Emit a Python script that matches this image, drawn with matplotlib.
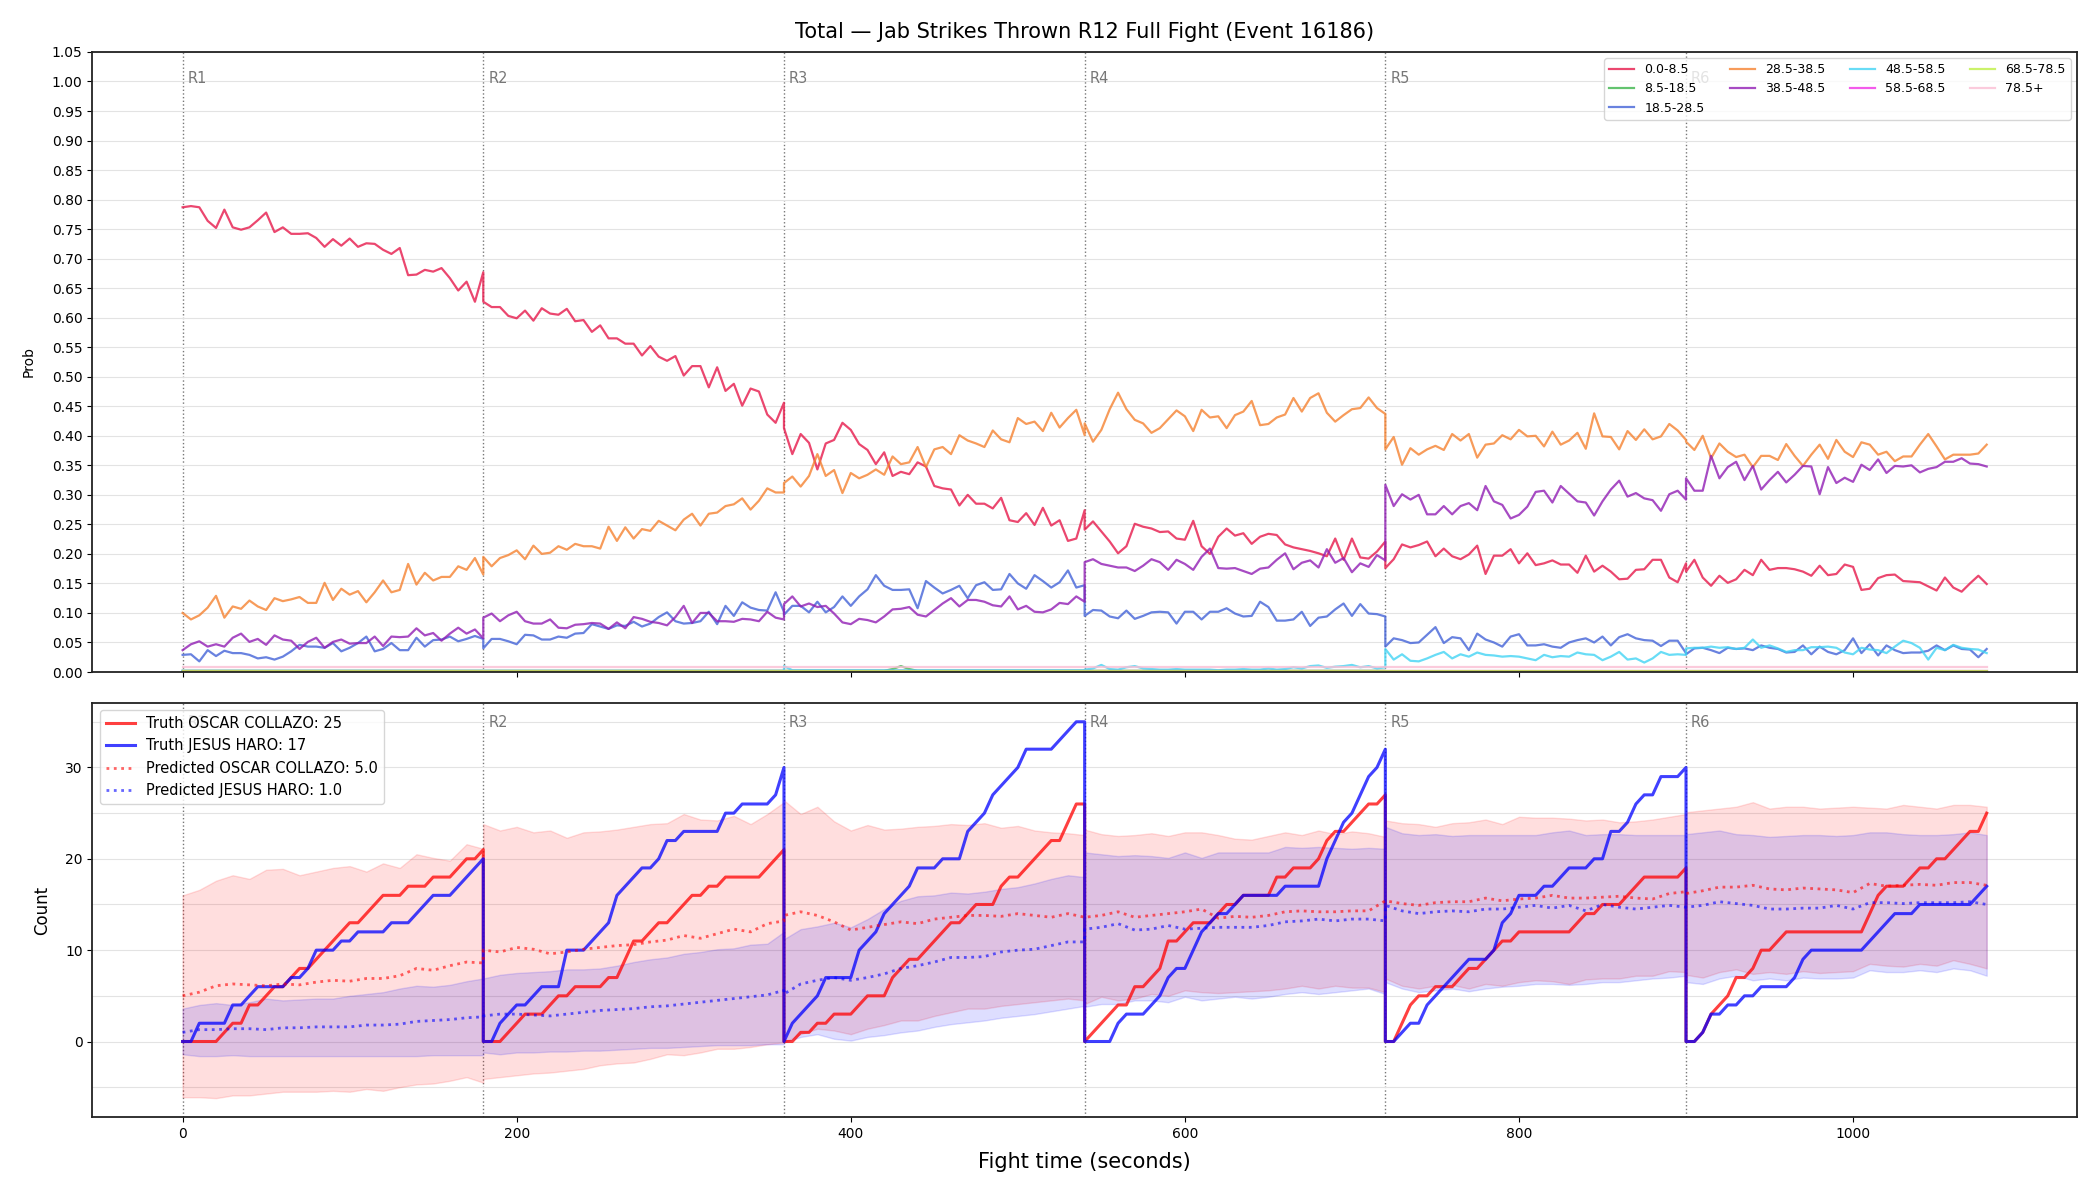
import numpy as np
import matplotlib
matplotlib.use("Agg")
import matplotlib.pyplot as plt
from matplotlib.ticker import MultipleLocator
import matplotlib.transforms as mtransforms

# ---------------- data ----------------
title = "Total \u2014 Jab Strikes Thrown R12 Full Fight (Event 16186)"
round_len = 180
n_rounds = 6
round_labels = ["R1", "R2", "R3", "R4", "R5", "R6"]
bucket_names = ["0.0-8.5", "8.5-18.5", "18.5-28.5", "28.5-38.5", "38.5-48.5",
                "48.5-58.5", "58.5-68.5", "68.5-78.5", "78.5+"]
bucket_colors = ["#e6194B", "#3cb44b", "#4363d8", "#f58231", "#911eb4",
                 "#42d4f4", "#f032e6", "#bfef45", "#fabed4"]

# probabilities, one list per round (every 5 s, 0..180)
p_0_8 = [
    [0.787,0.789,0.787,0.764,0.752,0.783,0.753,0.749,0.753,0.765,0.778,0.745,0.753,0.742,0.742,0.743,0.735,0.720,0.733,0.722,0.734,0.720,0.726,0.725,0.715,0.708,0.718,0.672,0.673,0.681,0.678,0.684,0.667,0.646,0.661,0.627,0.677],
    [0.627,0.618,0.618,0.603,0.599,0.612,0.595,0.616,0.607,0.605,0.615,0.594,0.596,0.576,0.587,0.565,0.565,0.556,0.556,0.536,0.552,0.534,0.527,0.535,0.502,0.518,0.518,0.482,0.516,0.476,0.488,0.451,0.480,0.475,0.436,0.422,0.456],
    [0.413,0.369,0.403,0.388,0.343,0.387,0.393,0.422,0.410,0.386,0.376,0.352,0.372,0.332,0.339,0.335,0.355,0.348,0.315,0.311,0.309,0.282,0.300,0.285,0.285,0.277,0.295,0.257,0.254,0.269,0.249,0.278,0.248,0.257,0.222,0.226,0.274],
    [0.241,0.255,0.238,0.221,0.201,0.213,0.251,0.246,0.243,0.237,0.238,0.226,0.224,0.256,0.213,0.200,0.229,0.243,0.231,0.235,0.217,0.229,0.234,0.232,0.216,0.211,0.208,0.205,0.201,0.196,0.226,0.190,0.226,0.194,0.192,0.204,0.221],
    [0.176,0.191,0.216,0.211,0.215,0.221,0.196,0.209,0.196,0.191,0.199,0.214,0.166,0.197,0.197,0.208,0.184,0.201,0.181,0.184,0.189,0.182,0.182,0.168,0.197,0.170,0.180,0.170,0.157,0.158,0.173,0.174,0.190,0.190,0.160,0.152,0.184],
    [0.170,0.190,0.160,0.146,0.163,0.151,0.157,0.173,0.164,0.190,0.173,0.176,0.176,0.174,0.170,0.163,0.180,0.164,0.166,0.182,0.178,0.139,0.141,0.159,0.164,0.165,0.154,0.153,0.152,0.145,0.138,0.160,0.143,0.136,0.150,0.163,0.149],
]
p_8_18 = [
    [0.002] * 37,
    [0.002] * 37,
    [0.002,0.002,0.002,0.002,0.002,0.002,0.002,0.002,0.002,0.002,0.002,0.002,0.002,0.005,0.010,0.005,0.002,0.002,0.002,0.002,0.002,0.002,0.002,0.002,0.002,0.002,0.002,0.002,0.002,0.002,0.002,0.002,0.002,0.002,0.002,0.002,0.002],
    [0.002] * 37,
    [0.001] * 37,
    [0.001] * 37,
]
p_18_28 = [
    [0.029,0.030,0.018,0.037,0.027,0.036,0.032,0.032,0.029,0.023,0.025,0.021,0.026,0.035,0.046,0.043,0.043,0.041,0.049,0.035,0.041,0.049,0.060,0.035,0.039,0.049,0.037,0.037,0.058,0.043,0.054,0.055,0.060,0.052,0.056,0.061,0.056],
    [0.040,0.056,0.056,0.052,0.047,0.063,0.062,0.055,0.055,0.060,0.058,0.065,0.066,0.081,0.077,0.073,0.079,0.078,0.085,0.077,0.082,0.093,0.101,0.086,0.082,0.083,0.086,0.102,0.081,0.112,0.095,0.118,0.109,0.105,0.104,0.135,0.102],
    [0.097,0.112,0.112,0.101,0.119,0.101,0.110,0.128,0.112,0.128,0.140,0.164,0.146,0.139,0.139,0.140,0.108,0.154,0.143,0.133,0.139,0.146,0.125,0.147,0.152,0.139,0.140,0.166,0.150,0.141,0.164,0.154,0.143,0.152,0.172,0.143,0.147],
    [0.095,0.105,0.104,0.094,0.091,0.104,0.090,0.095,0.101,0.102,0.101,0.082,0.102,0.102,0.089,0.102,0.102,0.108,0.099,0.094,0.095,0.119,0.110,0.087,0.087,0.089,0.102,0.078,0.092,0.094,0.106,0.116,0.095,0.115,0.099,0.098,0.094],
    [0.043,0.057,0.054,0.049,0.050,0.063,0.076,0.049,0.059,0.057,0.037,0.065,0.055,0.050,0.043,0.060,0.064,0.045,0.045,0.047,0.043,0.041,0.050,0.054,0.057,0.050,0.060,0.045,0.059,0.064,0.057,0.054,0.053,0.044,0.053,0.053,0.032],
    [0.030,0.040,0.041,0.037,0.032,0.041,0.039,0.040,0.037,0.045,0.041,0.039,0.033,0.034,0.045,0.030,0.043,0.034,0.030,0.037,0.057,0.032,0.047,0.028,0.045,0.037,0.032,0.033,0.033,0.036,0.045,0.037,0.045,0.039,0.038,0.025,0.039],
]
p_28_38 = [
    [0.100,0.089,0.096,0.109,0.129,0.092,0.111,0.107,0.121,0.111,0.105,0.125,0.120,0.123,0.127,0.117,0.117,0.151,0.122,0.141,0.131,0.137,0.118,0.135,0.155,0.135,0.139,0.183,0.148,0.168,0.155,0.161,0.161,0.179,0.173,0.193,0.165],
    [0.195,0.179,0.193,0.198,0.206,0.191,0.214,0.200,0.202,0.213,0.207,0.217,0.213,0.213,0.209,0.246,0.222,0.245,0.226,0.242,0.239,0.256,0.248,0.240,0.258,0.268,0.248,0.268,0.270,0.281,0.284,0.294,0.275,0.290,0.311,0.304,0.304],
    [0.320,0.331,0.314,0.332,0.369,0.332,0.342,0.303,0.337,0.328,0.334,0.343,0.334,0.365,0.352,0.355,0.381,0.347,0.377,0.381,0.369,0.401,0.392,0.387,0.381,0.409,0.394,0.389,0.430,0.420,0.424,0.408,0.439,0.414,0.430,0.444,0.401],
    [0.421,0.390,0.410,0.445,0.473,0.445,0.427,0.421,0.405,0.413,0.428,0.443,0.433,0.408,0.444,0.431,0.433,0.413,0.435,0.441,0.459,0.418,0.420,0.431,0.436,0.464,0.441,0.464,0.472,0.439,0.424,0.435,0.445,0.447,0.465,0.447,0.437],
    [0.377,0.398,0.351,0.379,0.368,0.377,0.383,0.376,0.403,0.392,0.403,0.363,0.385,0.387,0.401,0.394,0.410,0.399,0.400,0.382,0.407,0.385,0.392,0.405,0.378,0.438,0.399,0.398,0.377,0.408,0.393,0.411,0.394,0.399,0.420,0.409,0.393],
    [0.390,0.376,0.400,0.362,0.387,0.373,0.364,0.368,0.347,0.366,0.366,0.359,0.386,0.366,0.349,0.368,0.385,0.361,0.393,0.373,0.364,0.389,0.385,0.368,0.373,0.357,0.365,0.365,0.385,0.403,0.382,0.360,0.368,0.368,0.368,0.370,0.385],
]
p_38_48 = [
    [0.037,0.047,0.052,0.043,0.047,0.043,0.058,0.065,0.051,0.056,0.046,0.062,0.055,0.053,0.039,0.051,0.058,0.041,0.051,0.055,0.048,0.049,0.049,0.060,0.044,0.060,0.059,0.060,0.074,0.062,0.066,0.053,0.065,0.075,0.065,0.072,0.057],
    [0.092,0.099,0.086,0.096,0.102,0.086,0.082,0.082,0.089,0.075,0.074,0.080,0.081,0.083,0.082,0.073,0.084,0.074,0.093,0.090,0.085,0.083,0.079,0.093,0.112,0.083,0.100,0.100,0.086,0.086,0.085,0.090,0.089,0.086,0.102,0.092,0.089],
    [0.115,0.128,0.111,0.116,0.110,0.112,0.099,0.084,0.081,0.090,0.088,0.084,0.094,0.106,0.107,0.110,0.097,0.094,0.105,0.116,0.125,0.111,0.122,0.122,0.119,0.113,0.111,0.128,0.106,0.112,0.102,0.101,0.106,0.117,0.115,0.128,0.119],
    [0.186,0.191,0.183,0.180,0.177,0.177,0.171,0.180,0.191,0.186,0.173,0.190,0.183,0.173,0.195,0.209,0.176,0.175,0.176,0.171,0.166,0.175,0.177,0.190,0.201,0.174,0.185,0.189,0.177,0.208,0.185,0.193,0.169,0.184,0.178,0.198,0.189],
    [0.317,0.281,0.301,0.292,0.300,0.267,0.267,0.281,0.267,0.281,0.286,0.274,0.315,0.289,0.283,0.260,0.266,0.280,0.305,0.307,0.287,0.315,0.302,0.289,0.287,0.265,0.289,0.309,0.324,0.297,0.303,0.294,0.291,0.273,0.301,0.307,0.292],
    [0.328,0.307,0.307,0.366,0.328,0.347,0.356,0.325,0.349,0.309,0.325,0.339,0.321,0.334,0.349,0.348,0.301,0.347,0.320,0.329,0.322,0.351,0.342,0.360,0.337,0.349,0.348,0.350,0.338,0.344,0.347,0.356,0.356,0.362,0.353,0.352,0.348],
]
p_48_58 = [
    [0.002] * 37,
    [0.002] * 37,
    [0.010,0.003,0.003,0.003,0.003,0.003,0.003,0.003,0.003,0.003,0.003,0.003,0.003,0.003,0.003,0.003,0.003,0.003,0.003,0.003,0.003,0.003,0.003,0.003,0.003,0.003,0.003,0.003,0.003,0.003,0.003,0.003,0.003,0.003,0.003,0.003,0.003],
    [0.004,0.006,0.012,0.005,0.004,0.008,0.010,0.006,0.005,0.004,0.004,0.005,0.004,0.004,0.004,0.004,0.003,0.004,0.004,0.005,0.004,0.004,0.006,0.004,0.005,0.008,0.006,0.010,0.011,0.007,0.009,0.010,0.012,0.008,0.010,0.006,0.008],
    [0.039,0.021,0.030,0.019,0.018,0.023,0.029,0.034,0.023,0.030,0.026,0.033,0.029,0.028,0.026,0.027,0.026,0.023,0.020,0.029,0.025,0.027,0.026,0.033,0.030,0.029,0.020,0.026,0.034,0.021,0.023,0.016,0.023,0.034,0.029,0.030,0.029],
    [0.040,0.041,0.041,0.043,0.041,0.042,0.039,0.041,0.055,0.041,0.045,0.040,0.034,0.037,0.037,0.042,0.042,0.043,0.041,0.033,0.030,0.041,0.038,0.037,0.032,0.043,0.053,0.049,0.041,0.021,0.041,0.037,0.046,0.041,0.039,0.038,0.032],
]
p_58_68 = [[0.001] * 37 for _ in range(6)]
p_68_78 = [[0.001] * 37 for _ in range(6)]
p_78_up = [[0.009] * 37 for _ in range(6)]

# fighters
red_name = "OSCAR COLLAZO"
blue_name = "JESUS HARO"

# truth counts (every 5 s within each round)
red_truth = [
    [0,0,0,0,0,1,2,2,4,4,5,6,6,7,8,8,9,10,11,12,13,13,14,15,16,16,16,17,17,17,18,18,18,19,20,20,21],
    [0,0,0,1,2,3,3,3,4,5,5,6,6,6,6,7,7,9,11,11,12,13,13,14,15,16,16,17,17,18,18,18,18,18,19,20,21],
    [0,0,1,1,2,2,3,3,3,4,5,5,5,7,8,9,9,10,11,12,13,13,14,15,15,15,17,18,18,19,20,21,22,22,24,26,26],
    [0,1,2,3,4,4,6,6,7,8,11,11,12,13,13,13,14,15,15,16,16,16,16,18,18,19,19,19,20,22,23,23,24,25,26,26,27],
    [0,0,2,4,5,5,6,6,6,7,8,8,9,10,11,11,12,12,12,12,12,12,12,13,14,14,15,15,15,16,17,18,18,18,18,18,19],
    [0,0,1,3,4,5,7,7,8,10,10,11,12,12,12,12,12,12,12,12,12,12,14,16,17,17,17,18,19,19,20,20,21,22,23,23,25],
]
blue_truth = [
    [0,0,2,2,2,2,4,4,5,6,6,6,6,7,7,8,10,10,10,11,11,12,12,12,12,13,13,13,14,15,16,16,16,17,18,19,20],
    [0,0,2,3,4,4,5,6,6,6,10,10,10,11,12,13,16,17,18,19,19,20,22,22,23,23,23,23,23,25,25,26,26,26,26,27,30],
    [0,2,3,4,5,7,7,7,7,10,11,12,14,15,16,17,19,19,19,20,20,20,23,24,25,27,28,29,30,32,32,32,32,33,34,35,35],
    [0,0,0,0,2,3,3,3,4,5,7,8,8,10,12,13,14,14,15,16,16,16,16,16,17,17,17,17,17,20,22,24,25,27,29,30,32],
    [0,0,1,2,2,4,5,6,7,8,9,9,9,10,13,14,16,16,16,17,17,18,19,19,19,20,20,23,23,24,26,27,27,29,29,29,30],
    [0,0,1,3,3,4,4,5,5,6,6,6,6,7,9,10,10,10,10,10,10,10,11,12,13,14,14,14,15,15,15,15,15,15,15,16,17],
]

# predicted mean and band (every 10 s within each round)
red_pred = [
    [5.0,5.4,6.1,6.3,6.2,6.1,6.3,6.2,6.5,6.7,6.6,6.9,6.9,7.2,8.0,7.8,8.3,8.7,8.6],
    [10.0,9.8,10.3,10.1,9.6,9.8,10.1,10.3,10.5,10.6,10.9,11.1,11.6,11.3,11.8,12.3,12.0,12.9,13.2],
    [13.8,14.2,13.8,13.1,12.2,12.5,12.8,13.1,12.9,13.4,13.6,13.8,13.8,13.7,14.0,13.8,13.6,14.0,13.6],
    [13.6,13.8,14.2,13.6,13.8,14.0,14.2,14.5,13.5,13.7,13.6,13.8,14.2,14.3,14.2,14.2,14.3,14.3,15.4],
    [15.4,15.1,14.9,15.2,15.3,15.3,15.7,15.4,15.6,15.7,16.0,15.7,15.7,15.8,15.9,15.7,15.6,16.2,16.4],
    [16.2,16.5,16.9,16.9,17.1,16.7,16.6,16.8,16.7,16.6,16.3,17.3,17.0,17.1,17.2,17.1,17.4,17.4,17.1],
]
blue_pred = [
    [1.0,1.3,1.3,1.4,1.4,1.3,1.5,1.5,1.6,1.6,1.6,1.8,1.8,1.9,2.2,2.3,2.4,2.6,2.7],
    [2.8,3.0,3.0,2.9,2.8,3.0,3.2,3.4,3.5,3.6,3.8,3.9,4.1,4.3,4.5,4.7,4.9,5.1,5.6],
    [5.2,6.3,6.7,7.0,6.7,7.0,7.4,8.0,8.3,8.7,9.2,9.2,9.3,9.8,10.0,10.1,10.5,10.9,10.9],
    [12.3,12.5,12.9,12.2,12.3,12.7,12.3,12.4,12.5,12.5,12.5,12.7,13.1,13.2,13.4,13.2,13.4,13.4,13.2],
    [14.9,14.3,14.0,14.2,14.3,14.2,14.5,14.5,14.7,14.9,14.6,14.9,14.3,15.0,14.7,14.5,14.7,14.9,14.7],
    [14.7,14.9,15.3,15.1,14.9,14.5,14.5,14.6,14.6,14.9,14.5,15.2,15.2,15.1,15.2,15.2,15.2,15.3,15.0],
]
red_hi = [
    [16.0,16.6,17.6,18.2,17.8,18.8,18.9,18.2,18.6,19.0,19.2,18.6,19.5,19.0,20.5,20.1,19.8,21.6,21.1],
    [23.8,23.1,23.5,22.9,23.1,22.3,22.9,23.0,23.2,23.5,23.8,23.9,24.9,24.3,24.2,24.7,23.8,24.9,26.2],
    [26.4,24.9,25.7,24.1,23.1,23.7,23.2,23.3,23.5,23.6,23.8,23.7,23.9,23.4,23.6,23.1,22.9,22.8,22.6],
    [23.2,22.7,22.5,22.6,22.8,22.5,22.9,22.9,22.6,22.2,22.1,22.5,22.9,22.6,23.1,22.7,23.0,22.8,22.4],
    [24.2,23.9,23.8,23.5,23.9,24.0,24.3,23.8,24.6,24.5,24.5,24.4,24.2,24.3,24.0,24.1,24.3,24.6,24.9],
    [25.1,25.3,25.5,25.7,26.2,25.5,25.7,25.7,25.5,25.6,25.7,25.6,25.5,25.9,25.7,25.5,25.9,25.9,25.7],
]
red_lo = [
    [-6.1,-6.1,-6.2,-5.9,-5.9,-5.7,-5.5,-5.5,-5.5,-5.4,-5.5,-5.2,-5.4,-5.0,-4.7,-4.6,-4.3,-3.9,-4.5],
    [-4.1,-3.9,-3.7,-3.5,-3.4,-3.2,-3.0,-2.6,-2.4,-2.3,-1.9,-1.4,-1.5,-1.2,-0.8,-0.8,-0.6,-0.3,-0.1],
    [-0.1,0.8,1.4,1.2,0.8,1.4,1.8,2.3,2.3,2.8,3.2,3.6,3.6,3.9,4.1,4.3,4.5,4.7,4.5],
    [4.1,4.9,4.5,4.7,5.2,5.0,5.6,5.4,5.3,5.4,5.5,5.6,5.8,6.1,5.8,6.1,5.9,5.9,5.4],
    [6.9,6.1,5.8,6.1,6.2,5.8,6.3,6.1,6.5,6.7,6.6,6.3,6.8,6.9,6.9,7.2,7.2,7.7,7.6],
    [7.3,7.0,7.6,7.9,7.4,7.6,7.4,7.7,7.5,7.6,7.7,8.5,8.3,8.2,8.5,8.3,8.9,8.5,8.0],
]
blue_hi = [
    [3.6,4.0,4.2,4.0,4.3,4.7,4.5,4.6,4.7,4.7,5.0,5.2,5.4,5.8,6.1,6.0,6.2,6.6,6.9],
    [6.9,7.3,7.5,7.6,7.7,7.9,7.9,8.0,8.3,8.7,9.0,9.2,9.6,9.8,10.1,10.2,10.6,10.7,12.0],
    [11.2,12.3,12.6,13.0,12.5,13.4,14.5,15.4,15.9,16.0,16.3,16.2,16.4,16.7,16.9,17.3,17.8,18.2,18.0],
    [20.7,20.5,20.3,20.4,20.3,20.1,20.7,20.1,20.7,20.7,20.7,20.7,21.3,21.2,21.3,21.2,21.1,21.2,21.1],
    [23.5,22.8,22.6,22.7,22.5,22.6,22.6,22.6,22.6,22.6,22.9,23.1,22.6,22.7,22.7,22.6,22.6,22.6,22.6],
    [22.7,22.9,23.1,22.7,22.6,22.4,22.5,22.6,22.6,22.5,22.6,22.9,22.9,22.7,22.6,22.6,22.7,22.9,22.6],
]
blue_lo = [
    [-1.4,-1.6,-1.6,-1.5,-1.6,-1.6,-1.6,-1.6,-1.6,-1.6,-1.6,-1.6,-1.6,-1.6,-1.6,-1.5,-1.5,-1.5,-1.5],
    [-1.2,-1.4,-1.2,-1.2,-1.1,-1.1,-1.0,-1.0,-0.9,-0.8,-0.7,-0.7,-0.6,-0.5,-0.4,-0.4,-0.4,-0.3,-0.3],
    [-0.1,0.5,0.8,0.3,0.1,0.5,0.7,1.0,1.2,1.6,1.9,2.1,2.3,2.6,2.8,3.0,3.3,3.6,3.9],
    [3.8,4.1,4.1,4.5,4.5,4.3,4.9,4.5,4.7,4.9,4.7,4.9,5.2,5.4,5.2,5.4,5.6,5.8,5.2],
    [6.5,5.8,5.4,5.6,5.8,5.5,5.8,6.0,6.1,6.3,6.3,6.2,6.3,6.5,6.5,6.7,6.9,7.0,7.2],
    [6.5,6.3,6.9,7.2,6.7,6.9,6.7,7.0,6.9,6.9,7.0,7.8,7.6,7.6,7.8,7.6,8.0,7.8,7.2],
]


def flat(rounds):
    return np.concatenate([np.asarray(r, dtype=float) for r in rounds])


def times(n_pts):
    return np.concatenate([r * round_len + np.linspace(0, round_len, n_pts)
                           for r in range(n_rounds)])


t5 = times(37)
t10 = times(19)
prob_series = [p_0_8, p_8_18, p_18_28, p_28_38, p_38_48, p_48_58, p_58_68, p_68_78, p_78_up]

# ---------------- figure ----------------
fig = plt.figure(figsize=(21, 12), dpi=100)
ax1 = fig.add_axes([0.044, 0.44, 0.945, 0.5167])
ax2 = fig.add_axes([0.044, 0.0692, 0.945, 0.345], sharex=ax1)

for name, col, ser in zip(bucket_names, bucket_colors, prob_series):
    ax1.plot(t5, flat(ser), color=col, lw=1.6, alpha=0.8, label=name)

ax1.set_ylim(0, 1.05)
ax1.yaxis.set_major_locator(MultipleLocator(0.05))
ax1.set_ylabel("Prob", fontsize=10, labelpad=12)
ax1.set_title(title, fontsize=15, pad=10)
ax1.grid(axis="y", color="#e3e3e3", lw=0.8)
ax1.set_axisbelow(True)
ax1.tick_params(axis="x", labelbottom=False)
ax1.legend(loc="upper right", ncol=4, fontsize=9, framealpha=0.8)

# bottom panel
ax2.fill_between(t10, flat(red_lo), flat(red_hi), color="red", alpha=0.13)
ax2.fill_between(t10, flat(blue_lo), flat(blue_hi), color="blue", alpha=0.13)
ax2.plot(t5, flat(red_truth), color="red", lw=2.2, alpha=0.75,
         label=f"Truth {red_name}: {red_truth[-1][-1]}")
ax2.plot(t5, flat(blue_truth), color="blue", lw=2.2, alpha=0.75,
         label=f"Truth {blue_name}: {blue_truth[-1][-1]}")
ax2.plot(t10, flat(red_pred), color="red", lw=2, ls=":", alpha=0.6,
         label=f"Predicted {red_name}: {red_pred[0][0]:.1f}")
ax2.plot(t10, flat(blue_pred), color="blue", lw=2, ls=":", alpha=0.6,
         label=f"Predicted {blue_name}: {blue_pred[0][0]:.1f}")
ax2.yaxis.set_major_locator(MultipleLocator(10))
ax2.yaxis.set_minor_locator(MultipleLocator(5))
ax2.tick_params(axis="y", which="minor", length=0)
ax2.grid(axis="y", which="both", color="#e3e3e3", lw=0.8)
ax2.set_axisbelow(True)
ax2.set_ylabel("Count", fontsize=12, labelpad=10)
ax2.set_xlabel("Fight time (seconds)", fontsize=15, labelpad=8)
ax2.legend(loc="upper left", fontsize=10.5, framealpha=0.8)

for ax in (ax1, ax2):
    trans = mtransforms.blended_transform_factory(ax.transData, ax.transAxes)
    for r in range(n_rounds):
        x0 = r * round_len
        ax.axvline(x0, color="#555555", ls=":", lw=1, alpha=0.8, zorder=0.5)
        ax.text(x0 + 3, 0.97, round_labels[r], transform=trans, ha="left",
                va="top", fontsize=10.5, color="#777777", zorder=0.6)
    for s in ax.spines.values():
        s.set_linewidth(1.3)
        s.set_color("#222222")

fig.savefig("out.png", dpi=100)
